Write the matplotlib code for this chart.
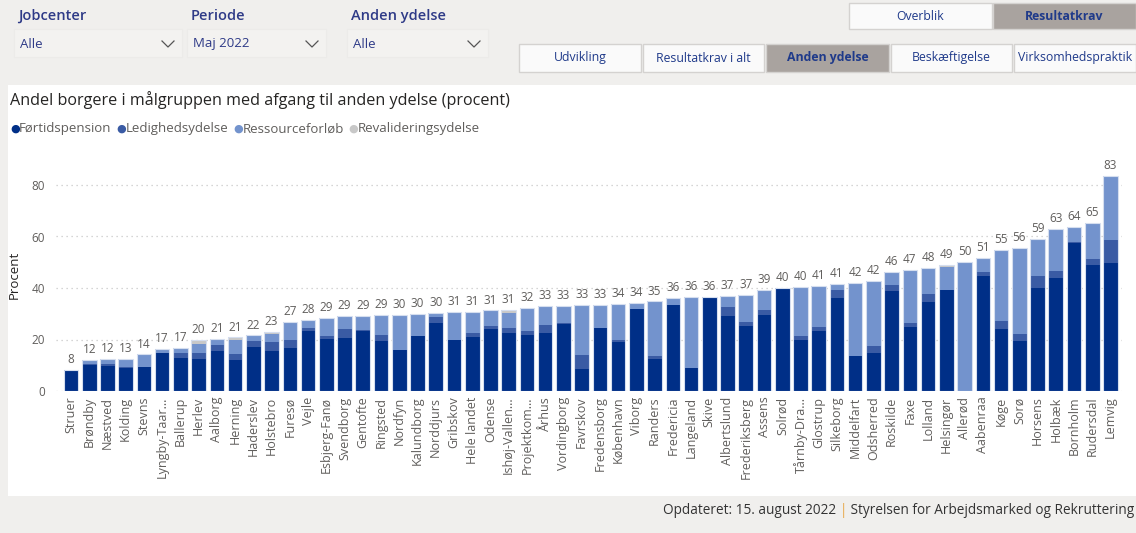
import matplotlib
matplotlib.use("Agg")
import matplotlib.pyplot as plt
from matplotlib.patches import Rectangle
import numpy as np

plt.rcParams['font.family'] = ['Open Sans', 'DejaVu Sans']

categories = ["Struer", "Brøndby", "Næstved", "Kolding", "Stevns", "Lyngby-Taar...", "Ballerup",
              "Herlev", "Aalborg", "Herning", "Haderslev", "Holstebro", "Furesø", "Vejle",
              "Esbjerg-Fanø", "Svendborg", "Gentofte", "Ringsted", "Nordfyn", "Kalundborg",
              "Norddjurs", "Gribskov", "Hele landet", "Odense", "Ishøj-Vallen...", "Projektkom...",
              "Århus", "Vordingborg", "Favrskov", "Fredensborg", "København", "Viborg", "Randers",
              "Fredericia", "Langeland", "Skive", "Albertslund", "Frederiksberg", "Assens", "Solrød",
              "Tårnby-Dra...", "Glostrup", "Silkeborg", "Middelfart", "Odsherred", "Roskilde", "Faxe",
              "Lolland", "Helsingør", "Allerød", "Aabenraa", "Køge", "Sorø", "Horsens", "Holbæk",
              "Bornholm", "Rudersdal", "Lemvig"]

foertidspension = [8.3, 10.1, 9.7, 8.8, 9.3, 14.8, 12.9, 12.4, 15.7, 12.0,
                   17.1, 15.7, 16.6, 23.2, 20.2, 20.6, 23.4, 19.4, 15.8, 21.2,
                   26.4, 19.9, 20.8, 23.9, 22.4, 21.7, 22.7, 26.1, 8.4, 24.5,
                   19.0, 32.0, 12.4, 33.3, 8.9, 36.5, 29.1, 25.2, 29.5, 40.1,
                   19.7, 23.4, 36.0, 13.7, 14.8, 38.7, 24.9, 34.6, 39.4, 0.0,
                   44.8, 23.9, 19.4, 40.1, 44.0, 57.6, 49.1, 49.8]
ledighedsydelse = [0.0, 0.4, 0.9, 0.4, 0.0, 0.0, 1.9, 2.4, 2.2, 2.5,
                   2.3, 3.3, 3.1, 1.3, 1.0, 3.3, 0.4, 2.5, 0.0, 0.0,
                   2.3, 0.0, 1.9, 1.5, 2.1, 1.6, 3.1, 0.4, 5.6, 0.0,
                   0.8, 0.0, 1.1, 0.0, 0.0, 0.0, 3.7, 1.6, 1.8, 0.0,
                   1.7, 1.5, 3.4, 0.0, 2.7, 2.3, 1.5, 3.1, 0.0, 0.0,
                   1.3, 3.3, 2.7, 4.7, 2.6, 0.4, 2.3, 8.7]
ressourceforloeb = [0.0, 1.6, 1.7, 3.2, 4.9, 1.6, 1.9, 3.6, 2.4, 5.2,
                    2.2, 3.1, 7.0, 2.7, 7.3, 5.4, 5.5, 7.6, 13.7, 8.6,
                    1.6, 10.9, 8.1, 5.9, 5.8, 9.1, 7.1, 6.5, 19.4, 8.9,
                    14.1, 2.2, 21.3, 2.3, 27.6, 0.0, 4.2, 10.5, 7.8, 0.0,
                    19.1, 15.9, 2.3, 28.2, 25.1, 5.1, 20.5, 9.5, 8.8, 50.1,
                    5.6, 27.7, 33.6, 14.2, 16.4, 5.8, 14.0, 25.0]
revalideringsydelse = [0.0, 0.0, 0.0, 0.0, 0.0, 0.0, 0.0, 1.3, 0.0, 1.1,
                       0.0, 0.8, 0.0, 0.3, 0.0, 0.0, 0.0, 0.0, 0.0, 0.0,
                       0.0, 0.0, 0.0, 0.0, 1.3, 0.0, 0.0, 0.0, 0.0, 0.0,
                       0.0, 0.0, 0.0, 0.6, 0.0, 0.0, 0.0, 0.0, 0.0, 0.0,
                       0.0, 0.0, 0.0, 0.0, 0.0, 0.0, 0.0, 0.6, 0.7, 0.0,
                       0.0, 0.0, 0.0, 0.0, 0.0, 0.0, 0.0, 0.0]
totals = [8, 12, 12, 13, 14, 17, 17, 20, 21, 21,
          22, 23, 27, 28, 29, 29, 29, 29, 30, 30,
          30, 31, 31, 31, 31, 32, 33, 33, 33, 33,
          34, 34, 35, 36, 36, 36, 37, 37, 39, 40,
          40, 41, 41, 42, 42, 46, 47, 48, 49, 50,
          51, 55, 56, 59, 63, 64, 65, 83]

series_names = ["Førtidspension", "Ledighedsydelse", "Ressourceforløb", "Revalideringsydelse"]
colors = ["#002F87", "#3A5BA4", "#7393CD", "#C8C8C8"]
y_ticks = [0, 20, 40, 60, 80]

W, H = 1136, 533
fig = plt.figure(figsize=(W / 100, H / 100), dpi=100)
fig.patch.set_facecolor("#F0EFED")

def fx(x):
    return x / W

def fy(y):
    return 1 - y / H

# white chart panel
fig.patches.append(Rectangle((fx(8), fy(496)), (1136 - 8) / W, (496 - 85) / H,
                             transform=fig.transFigure, facecolor="white", edgecolor="none", zorder=-5))

# slicers
slicer_blue = "#2E3A87"
for label, value, x0, x1 in [("Jobcenter", "Alle", 14, 182), ("Periode", "Maj 2022", 187, 326),
                             ("Anden ydelse", "Alle", 347, 488)]:
    fig.text(fx(x0 + 4), fy(16), label, fontsize=10.5, color=slicer_blue, va="center", ha="left",
             fontweight="semibold")
    fig.patches.append(Rectangle((fx(x0), fy(57)), (x1 - x0) / W, 28 / H, transform=fig.transFigure,
                                 facecolor="#F3F2F0", edgecolor="#ECEBE9", lw=0.8, zorder=-4))
    fig.text(fx(x0 + 6), fy(44), value, fontsize=9.5, color=slicer_blue, va="center", ha="left")
    cx = x1 - 14
    fig.lines.append(plt.Line2D([fx(cx - 6), fx(cx), fx(cx + 6)], [fy(41), fy(47), fy(41)],
                                transform=fig.transFigure, color="#555555", lw=0.9))

# buttons
def button(x0, x1, y0, y1, text, active):
    fig.patches.append(Rectangle((fx(x0), fy(y1)), (x1 - x0) / W, (y1 - y0) / H,
                                 transform=fig.transFigure,
                                 facecolor="#A9A39F" if active else "#FAFAFA",
                                 edgecolor="#D4D2D0", lw=1.0, zorder=-4))
    fig.text(fx((x0 + x1) / 2), fy((y0 + y1) / 2), text, fontsize=8.8, color="#1F3A8A",
             ha="center", va="center", fontweight="bold" if active else "normal")

button(849, 992, 3, 29, "Overblik", False)
button(993, 1136, 3, 29, "Resultatkrav", True)
for (x0, x1, t, a) in [(519, 641, "Udvikling", False), (643, 764, "Resultatkrav i alt", False),
                       (766, 889, "Anden ydelse", True), (891, 1012, "Beskæftigelse", False),
                       (1014, 1136, "Virksomhedspraktik", False)]:
    button(x0, x1, 44, 72, t, a)

# title and legend
fig.text(fx(10), fy(100), "Andel borgere i målgruppen med afgang til anden ydelse (procent)",
         fontsize=11.6, color="#252423", ha="left", va="center")
fig.canvas.draw()
lx = 10
for name, c in zip(series_names, colors):
    fig.text(fx(lx), fy(129), "●", fontsize=8, color=c, ha="left", va="center")
    t = fig.text(fx(lx + 9), fy(129), name, fontsize=9.5, color="#605E5C", ha="left", va="center")
    fig.canvas.draw()
    bb = t.get_window_extent()
    lx = bb.x1 + 5

# footer
parts = [("Opdateret: 15. august 2022 ", "#333333"), ("|", "#E8A33D"),
         (" Styrelsen for Arbejdsmarked og Rekruttering", "#333333")]
xr = 1134
for txt, col in reversed(parts):
    t = fig.text(fx(xr), fy(511), txt, fontsize=9.8, color=col, ha="right", va="center")
    fig.canvas.draw()
    xr = t.get_window_extent().x0

# axes
ax_left, ax_right, ax_top, ax_bottom = 56, 1122, 159, 391
ax = fig.add_axes([fx(ax_left), fy(ax_bottom), (ax_right - ax_left) / W, (ax_bottom - ax_top) / H])
ax.set_zorder(5)
ax.set_facecolor("white")
x = np.arange(len(categories))
pitch = (1110.5 - 71) / (len(categories) - 1)
ax.set_xlim((ax_left - 71) / pitch, (ax_right - 71) / pitch)
ax.set_ylim(0, (ax_bottom - ax_top) / 2.575)

bottom = np.zeros(len(categories))
for vals, c, name in zip([foertidspension, ledighedsydelse, ressourceforloeb, revalideringsydelse],
                         colors, series_names):
    v = np.array(vals, dtype=float)
    ax.bar(x, v, bottom=bottom, width=0.8, color=c, edgecolor="none", label=name, zorder=2)
    bottom += v
ax.bar(x, bottom, width=0.8, facecolor="none", edgecolor="#D5DEEF", lw=0.8, zorder=3)

for xi, top, tot in zip(x, bottom, totals):
    ax.text(xi, top + 1.5, str(tot), ha="center", va="bottom", fontsize=8.5, color="#605E5C")

ax.set_yticks(y_ticks)
ax.set_yticklabels([str(v) for v in y_ticks], fontsize=8.5, color="#605E5C")
ax.yaxis.grid(True, linestyle=(0, (1, 3)), color="#C8C8C8", lw=0.9)
ax.set_axisbelow(True)
ax.set_xticks(x)
ax.set_xticklabels(categories, rotation=90, fontsize=9, color="#605E5C")
ax.tick_params(axis="both", length=0, pad=4)
ax.tick_params(axis="y", pad=8)
for s in ax.spines.values():
    s.set_visible(False)
ax.set_ylabel("Procent", fontsize=9.5, color="#252423", labelpad=8)

fig.savefig("out.png", dpi=100, facecolor=fig.get_facecolor())
